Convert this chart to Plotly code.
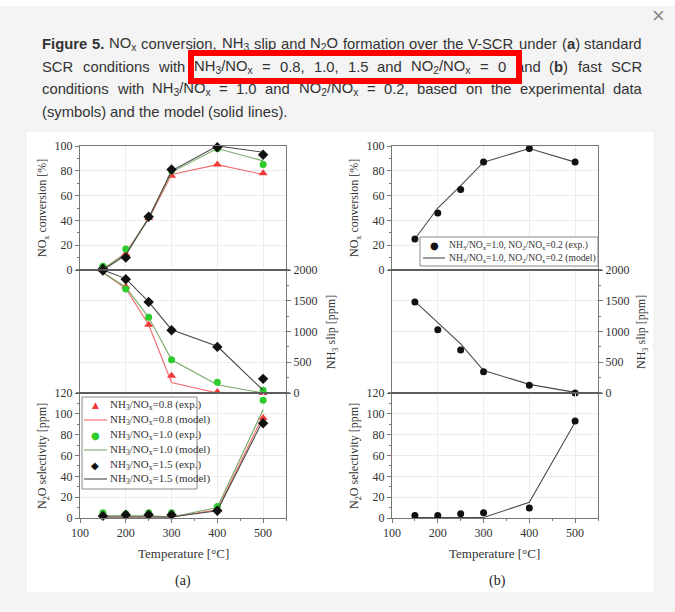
import re
import plotly.graph_objects as go

# ---------------- data ----------------
T = [150, 200, 250, 300, 400, 500]

# panel (a): standard SCR
a_nox_exp_08 = [2, 13, 42, 76, 85, 78]
a_nox_mod_08 = [0, 14, 41, 77, 85, 77]
a_nox_exp_10 = [3, 17, 43, 80, 98, 85]
a_nox_mod_10 = [1, 13, 42, 79, 98, 88]
a_nox_exp_15 = [1, 10, 43, 81, 99, 93]
a_nox_mod_15 = [0, 12, 42, 80, 100, 95]

a_nh3_exp_08 = [2000, 1730, 1110, 280, 15, 0]
a_nh3_mod_08 = [1960, 1700, 1110, 170, 0, 0]
a_nh3_exp_10 = [2000, 1690, 1230, 540, 175, 45]
a_nh3_mod_10 = [1960, 1720, 1230, 540, 135, 0]
a_nh3_exp_15 = [1990, 1850, 1480, 1020, 750, 230]
a_nh3_mod_15 = [2000, 1860, 1480, 1030, 760, 45]

a_n2o_exp_08 = [3, 3, 3, 3, 8, 96]
a_n2o_mod_08 = [1, 1, 1, 1, 8, 98]
a_n2o_exp_10 = [5, 4, 5, 5, 11, 113]
a_n2o_mod_10 = [2, 2, 2, 1, 10, 104]
a_n2o_exp_15 = [2, 3, 3, 3, 7, 91]
a_n2o_mod_15 = [1, 1, 1, 1, 7, 94]

# panel (b): fast SCR
b_nox_exp = [25, 46, 65, 87, 98, 87]
b_nox_mod = [25, 50, 68, 87, 98, 87]
b_nh3_exp = [1480, 1030, 700, 345, 125, 0]
b_nh3_mod = [1490, 1140, 800, 365, 140, 10]
b_n2o_exp = [2.5, 2.5, 4, 5, 9.5, 93]
b_n2o_mod = [0.5, 0.5, 0.5, 0.5, 15, 92]

x_ticks = [100, 200, 300, 400, 500]
nox_ticks = [0, 20, 40, 60, 80, 100]
nh3_ticks = [0, 500, 1000, 1500, 2000]
n2o_ticks = [0, 20, 40, 60, 80, 100, 120]

legend_a_labels = [
    "NH<sub>3</sub>/NO<sub>x</sub>=0.8 (exp.)",
    "NH<sub>3</sub>/NO<sub>x</sub>=0.8 (model)",
    "NH<sub>3</sub>/NO<sub>x</sub>=1.0 (exp.)",
    "NH<sub>3</sub>/NO<sub>x</sub>=1.0 (model)",
    "NH<sub>3</sub>/NO<sub>x</sub>=1.5 (exp.)",
    "NH<sub>3</sub>/NO<sub>x</sub>=1.5 (model)",
]
legend_b_labels = [
    "NH<sub>3</sub>/NO<sub>x</sub>=1.0, NO<sub>2</sub>/NO<sub>x</sub>=0.2 (exp.)",
    "NH<sub>3</sub>/NO<sub>x</sub>=1.0, NO<sub>2</sub>/NO<sub>x</sub>=0.2 (model)",
]

NOX = "NO<sub>x</sub>"
caption_lines = [
    ["<b>Figure</b>", "<b>5.</b>", NOX, "conversion,", "NH<sub>3</sub>", "slip", "and",
     "N<sub>2</sub>O", "formation", "over", "the", "V-SCR", "under", "(<b>a</b>)",
     "standard"],
    ["SCR", "conditions", "with", "NH<sub>3</sub>/" + NOX, "=", "0.8,", "1.0,", "1.5",
     "and", "NO<sub>2</sub>/" + NOX, "=", "0", "and", "(<b>b</b>)", "fast", "SCR"],
    ["conditions", "with", "NH<sub>3</sub>/" + NOX, "=", "1.0", "and",
     "NO<sub>2</sub>/" + NOX, "=", "0.2,", "based", "on", "the", "experimental", "data"],
    ["(symbols)", "and", "the", "model", "(solid", "lines)."],
]

# ---------------- layout helpers ----------------
W, H = 675, 612
def fx(px): return px / W
def fy(py): return 1 - py / H

SERIF = "Liberation Serif"
SANS = "Liberation Sans"
AX = "#777777"
GRID = "#ececec"

# Arial / Liberation Sans advance widths (per 1000 em)
AW = {" ": 278, "(": 333, ")": 333, ",": 278, "-": 333, ".": 278, "/": 278, "=": 584,
      "A": 667, "B": 667, "C": 722, "D": 722, "E": 667, "F": 611, "H": 722, "N": 722,
      "O": 778, "R": 722, "S": 667, "V": 667,
      "a": 556, "b": 556, "c": 500, "d": 556, "e": 556, "f": 278, "g": 556, "h": 556,
      "i": 222, "j": 222, "k": 500, "l": 222, "m": 833, "n": 556, "o": 556, "p": 556,
      "q": 556, "r": 333, "s": 500, "t": 278, "u": 556, "v": 500, "w": 722, "x": 500,
      "y": 500, "z": 500}
ABW = {"F": 611, "i": 278, "g": 611, "u": 611, "r": 389, "e": 556, "5": 556, ".": 278,
       "a": 556, "b": 611}

def str_width(s, size):
    w, sub, bold = 0.0, False, False
    for tok in re.split(r"(<[^>]+>)", s):
        if tok.startswith("<"):
            t = tok.strip("</>").lower()
            on = not tok.startswith("</")
            if t == "sub":
                sub = on
            elif t == "b":
                bold = on
            continue
        for ch in tok:
            if ch.isdigit():
                cw = 556
            elif bold:
                cw = ABW.get(ch, AW.get(ch, 556))
            else:
                cw = AW.get(ch, 556)
            w += cw / 1000 * size * (0.7 if sub else 1.0)
    return w

panel_x = {"a": (80, 286), "b": (392, 598)}
rows = {"top": (146, 270), "mid": (270, 393), "bot": (393, 518)}

fig = go.Figure()

idx = {("a", "top"): 1, ("a", "mid"): 2, ("a", "bot"): 3,
       ("b", "top"): 4, ("b", "mid"): 5, ("b", "bot"): 6}

def ax_name(kind, i):
    return kind if i == 1 else f"{kind}{i}"

RED_M, RED_L = "#f03a3a", "#f26a6a"
GRN_M, GRN_L = "#2ccc2c", "#78a868"
BLK_M, BLK_L = "#111111", "#4a4a4a"
SYM_SIZE = {"triangle-up": 8, "circle": 7, "diamond": 8}

def add_exp(p, r, y, color, symbol):
    i = idx[(p, r)]
    fig.add_trace(go.Scatter(
        x=T, y=y, mode="markers", showlegend=False,
        marker=dict(color=color, symbol=symbol, size=SYM_SIZE[symbol], line=dict(width=0)),
        xaxis=ax_name("x", i), yaxis=ax_name("y", i), cliponaxis=False))

def add_mod(p, r, y, color):
    i = idx[(p, r)]
    fig.add_trace(go.Scatter(
        x=T, y=y, mode="lines", showlegend=False,
        line=dict(color=color, width=1.1),
        xaxis=ax_name("x", i), yaxis=ax_name("y", i), cliponaxis=False))

series_a = [
    (RED_M, RED_L, "triangle-up",
     {"top": a_nox_exp_08, "mid": a_nh3_exp_08, "bot": a_n2o_exp_08},
     {"top": a_nox_mod_08, "mid": a_nh3_mod_08, "bot": a_n2o_mod_08}),
    (GRN_M, GRN_L, "circle",
     {"top": a_nox_exp_10, "mid": a_nh3_exp_10, "bot": a_n2o_exp_10},
     {"top": a_nox_mod_10, "mid": a_nh3_mod_10, "bot": a_n2o_mod_10}),
    (BLK_M, BLK_L, "diamond",
     {"top": a_nox_exp_15, "mid": a_nh3_exp_15, "bot": a_n2o_exp_15},
     {"top": a_nox_mod_15, "mid": a_nh3_mod_15, "bot": a_n2o_mod_15}),
]
for cm, cl, sym, exps, mods in series_a:
    for r in ["top", "mid", "bot"]:
        add_mod("a", r, mods[r], cl)
        add_exp("a", r, exps[r], cm, sym)

for r, e, m in [("top", b_nox_exp, b_nox_mod), ("mid", b_nh3_exp, b_nh3_mod),
                ("bot", b_n2o_exp, b_n2o_mod)]:
    add_mod("b", r, m, BLK_L)
    add_exp("b", r, e, BLK_M, "circle")

tickfont = dict(family=SERIF, size=12, color="#333333")
layout_axes = {}
for (p, r), i in idx.items():
    x0, x1 = panel_x[p]
    y0, y1 = rows[r]
    layout_axes[ax_name("xaxis", i)] = dict(
        domain=[fx(x0), fx(x1)], range=[100, 550], anchor=ax_name("y", i),
        tickvals=x_ticks, showgrid=True, gridcolor=GRID, gridwidth=1,
        showline=True, linecolor=AX, linewidth=1, mirror=True,
        ticks="outside" if r == "bot" else "", ticklen=4, tickcolor=AX,
        showticklabels=(r == "bot"), tickfont=tickfont, zeroline=False,
        minor=dict(ticks="outside", ticklen=2, tickcolor=AX, dtick=50) if r == "bot" else None,
        fixedrange=True, automargin=False)
    if r == "top":
        rng, tv, side, mdt = [0, 100], nox_ticks, "left", 10
    elif r == "mid":
        rng, tv, side, mdt = [0, 2000], nh3_ticks, "right", 250
    else:
        rng, tv, side, mdt = [0, 120], n2o_ticks, "left", 10
    layout_axes[ax_name("yaxis", i)] = dict(
        domain=[fy(y1), fy(y0)], range=rng, anchor=ax_name("x", i), side=side,
        tickvals=tv, showgrid=True, gridcolor=GRID, gridwidth=1,
        showline=True, linecolor=AX, linewidth=1, mirror=True,
        ticks="outside", ticklen=4, tickcolor=AX, tickfont=tickfont,
        minor=dict(ticks="outside", ticklen=2, tickcolor=AX, dtick=mdt),
        zeroline=False, fixedrange=True, automargin=False)

shapes = [
    dict(type="rect", xref="paper", yref="paper", x0=0, x1=1, y0=fy(6), y1=1,
         fillcolor="white", line=dict(width=0), layer="below"),
    dict(type="rect", xref="paper", yref="paper", x0=fx(26), x1=fx(654),
         y0=fy(593), y1=fy(131), fillcolor="white",
         line=dict(width=1, color="#ececec"), layer="below"),
]
for p in ["a", "b"]:
    x0, x1 = panel_x[p]
    for py in [270, 393]:
        shapes.append(dict(type="line", xref="paper", yref="paper",
                           x0=fx(x0 - 4), x1=fx(x1 + 4), y0=fy(py), y1=fy(py),
                           line=dict(color="#555555", width=1.4), layer="above"))

ann = []
def text(px, py, s, size=13, family=SANS, color="#333333", xanchor="left",
         angle=0):
    ann.append(dict(xref="paper", yref="paper", x=fx(px), y=fy(py), text=s,
                    showarrow=False, xanchor=xanchor, yanchor="middle",
                    textangle=angle, font=dict(family=family, size=size, color=color)))

# ----- manual legends -----
def legend_box(x0, y0, x1, y1):
    shapes.append(dict(type="rect", xref="paper", yref="paper",
                       x0=fx(x0), x1=fx(x1), y0=fy(y1), y1=fy(y0),
                       fillcolor="white", line=dict(color="#888888", width=1),
                       layer="above"))

GLYPH = {"triangle-up": ("▲", 9), "circle": ("●", 10), "diamond": ("◆", 10)}

legend_box(82, 397, 197, 489)
rows_a = [405, 420, 435, 450, 465, 479]
leg_kinds_a = [("m", RED_M, "triangle-up"), ("l", RED_L, None),
               ("m", GRN_M, "circle"), ("l", GRN_L, None),
               ("m", BLK_M, "diamond"), ("l", BLK_L, None)]
for ry, (k, c, sym), labtxt in zip(rows_a, leg_kinds_a, legend_a_labels):
    if k == "l":
        shapes.append(dict(type="line", xref="paper", yref="paper",
                           x0=fx(84), x1=fx(107), y0=fy(ry), y1=fy(ry),
                           line=dict(color=c, width=1.1), layer="above"))
    else:
        g, gs = GLYPH[sym]
        text(95, ry, g, gs, "DejaVu Sans", c, xanchor="center")
    text(108, ry, labtxt, 11, SERIF, "#333333")

legend_box(420, 237, 598, 266)
rows_b = [245, 258]
for ry, k, labtxt in zip(rows_b, ["m", "l"], legend_b_labels):
    if k == "l":
        shapes.append(dict(type="line", xref="paper", yref="paper",
                           x0=fx(423), x1=fx(445), y0=fy(ry), y1=fy(ry),
                           line=dict(color=BLK_L, width=1.1), layer="above"))
    else:
        text(434, ry, "●", 10, "DejaVu Sans", BLK_M, xanchor="center")
    text(447, ry, labtxt, 9.6, SERIF, "#333333")

# ----- caption (justified between x=40 and x=640) -----
cap = 14.8
cap_y = [44, 67, 89, 112]
for li, (words, ly) in enumerate(zip(caption_lines, cap_y)):
    widths = [str_width(w, cap) for w in words]
    if li < 3:
        gap = (600 - sum(widths)) / (len(words) - 1)
    else:
        gap = str_width(" ", cap)
    xcur = 40.0
    for w, wd in zip(words, widths):
        text(xcur, ly, w, cap)
        xcur += wd + gap

# close button
text(658, 15, "×", 22, family=SANS, color="#888888", xanchor="center")

# axis titles
lt = dict(size=12, family=SERIF, color="#333333", angle=-90, xanchor="center")
for p, lx, rx in [("a", 43, 332), ("b", 355, 642)]:
    text(lx, 208, "NO<sub>x</sub> conversion [%]", **lt)
    text(rx, 332, "NH<sub>3</sub> slip [ppm]", **lt)
    text(lx, 456, "N<sub>2</sub>O selectivity [ppm]", **lt)
text(183, 553, "Temperature [°C]", 13, SERIF, xanchor="center")
text(495, 553, "Temperature [°C]", 13, SERIF, xanchor="center")
text(183, 581, "(a)", 14, SERIF, color="#222222", xanchor="center")
text(497, 581, "(b)", 14, SERIF, color="#222222", xanchor="center")

# red highlight box (annotation so it sits above caption text)
ann.append(dict(xref="paper", yref="paper", x=fx(355), y=fy(67), text=" ",
                showarrow=False, xanchor="center", yanchor="middle",
                width=322, height=22, borderwidth=6, bordercolor="#ff0000",
                borderpad=0, bgcolor="rgba(0,0,0,0)"))

fig.update_layout(
    width=W, height=H, margin=dict(l=0, r=0, t=0, b=0, autoexpand=False),
    paper_bgcolor="#f4f4f4", plot_bgcolor="rgba(0,0,0,0)",
    shapes=shapes, annotations=ann, showlegend=False,
    **layout_axes,
)

fig.write_html("out.html", config={"displayModeBar": False, "staticPlot": True},
               post_script="document.body.style.margin='0';"
                           "document.body.style.overflow='hidden';")
